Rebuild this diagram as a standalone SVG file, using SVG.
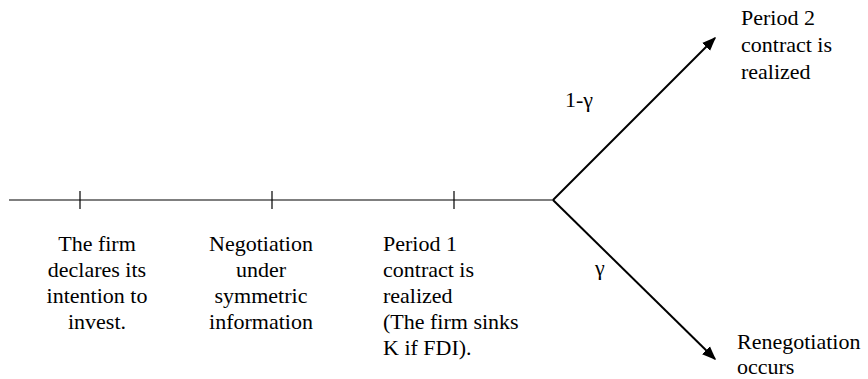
<svg xmlns="http://www.w3.org/2000/svg" width="868" height="379" viewBox="0 0 868 379">
<style>
text{font-family:"Liberation Serif",serif;font-size:22px;fill:#000}
.mid{text-anchor:middle}
.tick{stroke:#000;stroke-width:1.2;fill:none}
.arrow{stroke:#000;stroke-width:2;fill:none}
</style>
<defs>
<marker id="ah" viewBox="0 0 10 10" refX="9" refY="5" markerWidth="14" markerHeight="14" markerUnits="userSpaceOnUse" orient="auto"><path d="M0,1 L10,5 L0,9 z" fill="#000"/></marker>
</defs>
<g id="connectors">
<line class="tick" x1="9" y1="200" x2="553" y2="200"/>
<line class="tick" x1="80" y1="191" x2="80" y2="209"/>
<line class="tick" x1="272" y1="191" x2="272" y2="209"/>
<line class="tick" x1="454" y1="191" x2="454" y2="209"/>
<line class="arrow" x1="553" y1="200" x2="715" y2="38" marker-end="url(#ah)"/>
<line class="arrow" x1="553" y1="200" x2="715" y2="359" marker-end="url(#ah)"/>
</g>
<g id="n1" class="mid">
<text x="97" y="251">The firm</text>
<text x="97" y="277">declares its</text>
<text x="97" y="303">intention to</text>
<text x="97" y="329">invest.</text>
</g>
<g id="n2" class="mid">
<text x="261" y="251">Negotiation</text>
<text x="261" y="277">under</text>
<text x="261" y="303">symmetric</text>
<text x="261" y="329">information</text>
</g>
<g id="n3">
<text x="383" y="251">Period 1</text>
<text x="383" y="277">contract is</text>
<text x="383" y="303">realized</text>
<text x="383" y="329">(The firm sinks</text>
<text x="383" y="355">K if FDI).</text>
</g>
<g id="n4">
<text x="741" y="25">Period 2</text>
<text x="741" y="52">contract is</text>
<text x="741" y="79">realized</text>
</g>
<g id="n5">
<text x="737" y="349">Renegotiation</text>
<text x="737" y="374">occurs</text>
</g>
<g id="labels">
<text x="565" y="107">1-γ</text>
<text x="595" y="275">γ</text>
</g>
</svg>
